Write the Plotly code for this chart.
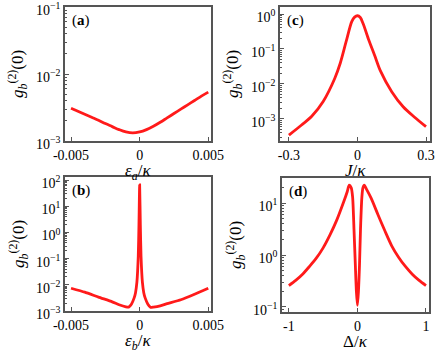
import plotly.graph_objects as go

# (a) g2 vs eps_a/kappa
eps_a = [-0.005, -0.0045, -0.004, -0.0035, -0.003, -0.0025, -0.002, -0.0015, -0.001, -0.0005,
         0.0, 0.0005, 0.001, 0.0015, 0.002, 0.0025, 0.003, 0.0035, 0.004, 0.0045, 0.005]
log_g2_a = [-2.51, -2.555, -2.60, -2.645, -2.69, -2.74, -2.785, -2.83, -2.865, -2.88,
            -2.865, -2.83, -2.78, -2.72, -2.655, -2.59, -2.525, -2.46, -2.395, -2.33, -2.27]

# (b) g2 vs eps_b/kappa
eps_b = [-0.005, -0.004, -0.003, -0.002, -0.0015, -0.001, -0.0008, -0.0006, -0.0004,
         -0.0003, -0.0002, -0.0001, -0.00005, 0.0, 0.00005, 0.0001, 0.0002, 0.0003, 0.0004,
         0.0006, 0.0008, 0.001, 0.0015, 0.002, 0.003, 0.004, 0.005]
log_g2_b = [-2.13, -2.28, -2.47, -2.65, -2.76, -2.84, -2.85, -2.74, -2.50, -2.30, -1.90,
            -0.90, 0.30, 1.82, 0.30, -0.90, -1.90, -2.30, -2.50, -2.74, -2.86, -2.85,
            -2.80, -2.72, -2.57, -2.36, -2.13]

# (c) g2 vs J/kappa
J = [-0.3, -0.25, -0.2, -0.15, -0.1, -0.075, -0.05, -0.025, -0.0125, 0.0,
     0.0125, 0.025, 0.05, 0.075, 0.1, 0.15, 0.2, 0.25, 0.3]
log_g2_c = [-3.46, -3.20, -2.92, -2.50, -1.85, -1.40, -0.80, -0.22, -0.09, -0.05,
            -0.10, -0.28, -0.75, -1.18, -1.62, -2.22, -2.65, -2.95, -3.22]

# (d) g2 vs Delta/kappa
delta = [-1.0, -0.9, -0.8, -0.7, -0.6, -0.5, -0.4, -0.3, -0.2, -0.15, -0.12, -0.09,
         -0.07, -0.05, -0.03, -0.015, 0.0, 0.015, 0.03, 0.045, 0.065, 0.08, 0.1, 0.13,
         0.2, 0.3, 0.4, 0.5, 0.6, 0.7, 0.8, 0.9, 1.0]
log_g2_d = [-0.59, -0.49, -0.37, -0.22, -0.06, 0.14, 0.39, 0.68, 1.03, 1.22, 1.35, 1.30,
            1.12, 0.50, -0.20, -0.70, -0.97, -0.70, -0.20, 0.50, 1.12, 1.30, 1.35, 1.28,
            1.10, 0.78, 0.47, 0.18, -0.04, -0.22, -0.37, -0.49, -0.59]

W, H = 436, 354
FONT = "Liberation Serif"
RED = "#ff1a1a"
FRAME = "#555555"
YTITLE = "<i>g</i><sub><i>b</i></sub><sup>(2)</sup>(0)"


def px_x(a, b):
    return [a / W, b / W]


def px_y(top, bottom):
    return [1 - bottom / H, 1 - top / H]


def pw(e):
    return "10<sup>" + str(e).replace("-", "\u2212") + "</sup>"


def minor_vals(lo, hi):
    return [m * 10**e for e in range(lo, hi + 1) for m in range(2, 10)]


panels = [
    # x, log y, x domain, y domain, x range, y range, xticks, xtext, y exps, label, xtitle, smoothing
    (eps_a, log_g2_a, px_x(65, 211), px_y(7, 141), [-0.00544, 0.0052], [-3, -1],
     [-0.005, 0, 0.005], ["-0.005", "0", "0.005"], [-3, -2, -1], "a",
     "<i>ε</i><sub><i>a</i></sub>/<i>κ</i>", 1.0),
    (J, log_g2_c, px_x(280, 430), px_y(7, 141), [-0.339, 0.3175], [-3.63, 0.2],
     [-0.3, 0, 0.3], ["-0.3", "0", "0.3"], [-3, -2, -1, 0], "c",
     "<i>J</i>/<i>κ</i>", 0.8),
    (eps_b, log_g2_b, px_x(65, 211), px_y(177, 311), [-0.00544, 0.0052], [-3, 2.12],
     [-0.005, 0, 0.005], ["-0.005", "0", "0.005"], [-3, -2, -1, 0, 1, 2], "b",
     "<i>ε</i><sub><i>b</i></sub>/<i>κ</i>", 0.5),
    (delta, log_g2_d, px_x(282, 429), px_y(178, 312), [-1.1, 1.044], [-1.1, 1.49],
     [-1, 0, 1], ["-1", "0", "1"], [-1, 0, 1], "d",
     "Δ/<i>κ</i>", 0.7),
]

fig = go.Figure()
for i, (xs, lys, xd, yd, xr, yr, xt, xtt, yexp, lab, xtitle, sm) in enumerate(panels):
    n = "" if i == 0 else str(i + 1)
    fig.add_trace(go.Scatter(x=xs, y=[10**v for v in lys], mode="lines",
                             line=dict(color=RED, width=2.8, shape="spline", smoothing=sm),
                             xaxis="x" + n, yaxis="y" + n, showlegend=False))
    fig.update_layout(**{
        "xaxis" + n: dict(domain=xd, range=xr, anchor="y" + n, showline=True, mirror=True,
                          linecolor=FRAME, linewidth=1.5, ticks="inside", ticklen=4,
                          tickcolor=FRAME, tickvals=xt, ticktext=xtt, showgrid=False,
                          zeroline=False, automargin=False, ticklabeloverflow="allow",
                          tickfont=dict(family=FONT, size=14, color="black")),
        "yaxis" + n: dict(domain=yd, type="log", range=yr, anchor="x" + n, showline=True,
                          mirror=True, linecolor=FRAME, linewidth=1.5, ticks="inside",
                          ticklen=4, tickcolor=FRAME, showgrid=False, zeroline=False,
                          automargin=False, ticklabeloverflow="allow", ticklabelshift=3,
                          tickvals=[10**e for e in yexp], ticktext=[pw(e) for e in yexp],
                          tickfont=dict(family=FONT, size=14, color="black"),
                          minor=dict(ticks="inside", ticklen=2, tickcolor=FRAME,
                                     tickvals=minor_vals(yexp[0] - 1, yexp[-1] + 1),
                                     showgrid=False)),
    })
    # panel label
    fig.add_annotation(x=xd[0] + 5 / W, y=yd[1] - 3 / H, xref="paper", yref="paper",
                       xanchor="left", yanchor="top", showarrow=False,
                       text="(<b>" + lab + "</b>)", font=dict(family=FONT, size=15, color="black"))
    # x title
    fig.add_annotation(x=(xd[0] + xd[1]) / 2, y=yd[0] - 18 / H, xref="paper", yref="paper",
                       xanchor="center", yanchor="top", showarrow=False, text=xtitle,
                       font=dict(family=FONT, size=17, color="black"))
    # y title
    fig.add_annotation(x=xd[0] - 47 / W, y=(yd[0] + yd[1]) / 2, xref="paper", yref="paper",
                       xanchor="center", yanchor="middle", showarrow=False, text=YTITLE,
                       textangle=-90, font=dict(family=FONT, size=17, color="black"))

fig.update_layout(width=W, height=H, margin=dict(l=0, r=0, t=0, b=0), template="none",
                  paper_bgcolor="white", plot_bgcolor="white")

fig.write_html("out.html", config={"displayModeBar": False},
               post_script="document.body.style.margin='0';")
